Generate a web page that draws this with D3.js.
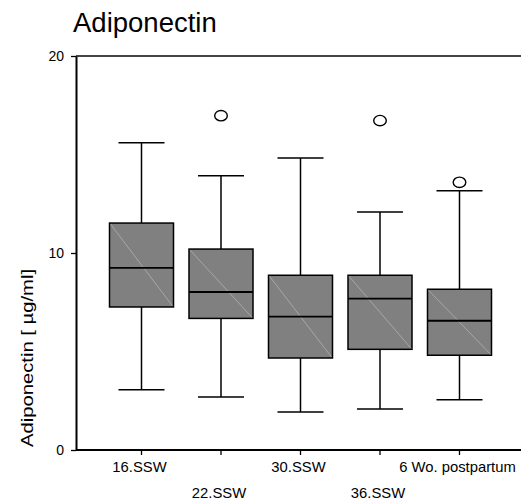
<!DOCTYPE html>
<html><head><meta charset="utf-8">
<script src="https://cdn.jsdelivr.net/npm/d3@7/dist/d3.min.js"></script>
<style>body{margin:0;background:#fff}svg{display:block}text{font-family:"Liberation Sans",Arial,sans-serif;fill:#000}</style>
</head><body>
<script>
const categories = ["16.SSW","22.SSW","30.SSW","36.SSW","6 Wo. postpartum"];
const q1 = [7.26, 6.68, 4.67, 5.11, 4.81];
const median = [9.24, 8.02, 6.77, 7.68, 6.56];
const q3 = [11.52, 10.20, 8.87, 8.87, 8.16];
const whiskerLow = [3.06, 2.69, 1.93, 2.08, 2.55];
const whiskerHigh = [15.6, 13.92, 14.82, 12.08, 13.16];
const outliers = [[], [16.97], [], [16.72], [13.59]];
const yTicks = [0, 10, 20];
const title = "Adiponectin";
const yTitle = "Adiponectin [ µg/ml]";

const W = 521, H = 499;
const svg = d3.select("body").append("svg").attr("width", W).attr("height", H);

const y = d3.scaleLinear().domain([0, 20]).range([450, 56]);
const x = d3.scaleBand().domain(categories).range([101.75, 499.25]).paddingInner(0).paddingOuter(0);
const cx = c => x(c) + x.bandwidth() / 2;
const boxW = 64, capW = 46;

// title
svg.append("text").attr("x", 73).attr("y", 32).attr("font-size", 27.5).text(title);

// top frame line
svg.append("line").attr("x1", 76).attr("x2", W).attr("y1", y(20)).attr("y2", y(20))
  .attr("stroke", "#444").attr("stroke-width", 2);

// y axis
const ya = svg.append("g").attr("transform", "translate(76,0)")
  .call(d3.axisLeft(y).tickValues(yTicks).tickSize(5).tickSizeOuter(0).tickFormat(d3.format("d")));
ya.select(".domain").attr("stroke", "#000").attr("stroke-width", 2);
ya.selectAll(".tick line").attr("stroke", "#000").attr("stroke-width", 1.3);
ya.selectAll(".tick text").attr("font-size", 14).attr("font-family", "Liberation Sans, Arial, sans-serif").attr("x", -12).attr("fill", "#000");

// x axis
svg.append("line").attr("x1", 76).attr("x2", W).attr("y1", 450).attr("y2", 450)
  .attr("stroke", "#000").attr("stroke-width", 2);
const xa = svg.append("g").attr("transform", "translate(0,450)")
  .call(d3.axisBottom(x).tickSize(5).tickSizeOuter(0));
xa.select(".domain").remove();
xa.selectAll(".tick line").attr("stroke", "#000").attr("stroke-width", 1.3);
xa.selectAll(".tick text").attr("font-size", 14.8).attr("font-family", "Liberation Sans, Arial, sans-serif")
  .attr("fill", "#000").attr("dx", -2)
  .attr("dy", 0).attr("y", (d, i) => i % 2 === 0 ? 21.5 : 47.5);

// y title
svg.append("text").attr("transform", "translate(33,358) rotate(-90)")
  .attr("text-anchor", "middle").attr("font-size", 16)
  .attr("textLength", 178).attr("lengthAdjust", "spacingAndGlyphs").text(yTitle);

// boxes
const g = svg.append("g");
categories.forEach((c, i) => {
  const xc = cx(c);
  g.append("line").attr("x1", xc).attr("x2", xc).attr("y1", y(whiskerHigh[i])).attr("y2", y(q3[i]))
    .attr("stroke", "#000").attr("stroke-width", 1.5);
  g.append("line").attr("x1", xc).attr("x2", xc).attr("y1", y(q1[i])).attr("y2", y(whiskerLow[i]))
    .attr("stroke", "#000").attr("stroke-width", 1.5);
  g.append("line").attr("x1", xc - capW/2).attr("x2", xc + capW/2).attr("y1", y(whiskerHigh[i])).attr("y2", y(whiskerHigh[i]))
    .attr("stroke", "#000").attr("stroke-width", 1.5);
  g.append("line").attr("x1", xc - capW/2).attr("x2", xc + capW/2).attr("y1", y(whiskerLow[i])).attr("y2", y(whiskerLow[i]))
    .attr("stroke", "#000").attr("stroke-width", 1.5);
  g.append("rect").attr("x", xc - boxW/2).attr("y", y(q3[i])).attr("width", boxW).attr("height", y(q1[i]) - y(q3[i]))
    .attr("fill", "#808080").attr("stroke", "#000").attr("stroke-width", 1.5);
  g.append("line").attr("x1", xc - boxW/2 + 1).attr("y1", y(q3[i]) + 1).attr("x2", xc + boxW/2 - 1).attr("y2", y(q1[i]) - 1)
    .attr("stroke", "#b8b8b8").attr("stroke-width", 0.7);
  g.append("line").attr("x1", xc - boxW/2).attr("x2", xc + boxW/2).attr("y1", y(median[i])).attr("y2", y(median[i]))
    .attr("stroke", "#000").attr("stroke-width", 1.8);
  outliers[i].forEach(v => {
    g.append("ellipse").attr("cx", xc).attr("cy", y(v)).attr("rx", 6.3).attr("ry", 5.2)
      .attr("fill", "#fff").attr("stroke", "#000").attr("stroke-width", 1.4);
  });
});
</script>
</body></html>
